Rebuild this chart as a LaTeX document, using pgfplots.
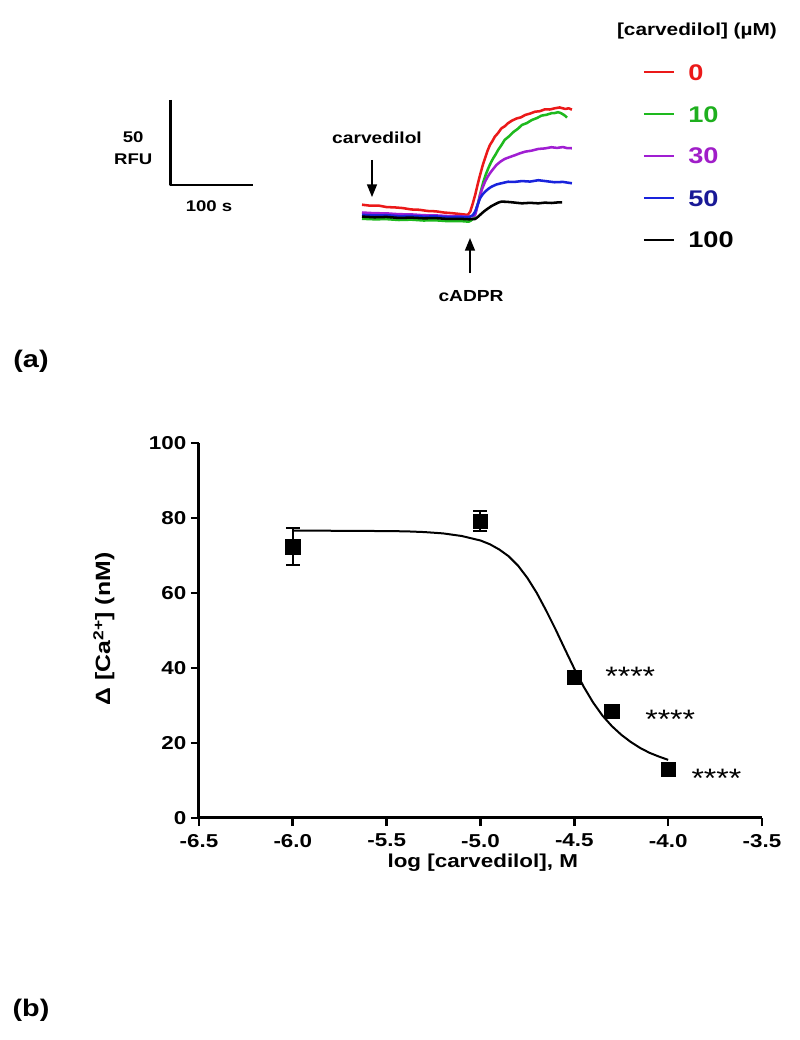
\documentclass[border=0pt]{standalone}
\usepackage{pgfplots}
\pgfplotsset{compat=1.18}
\usetikzlibrary{arrows.meta}
\usepackage{fontspec}
\setmainfont{Liberation Sans}[FakeStretch=1.2]
\definecolor{cred}{RGB}{235,25,25}
\definecolor{cgreen}{RGB}{30,185,30}
\definecolor{cpurple}{RGB}{160,30,210}
\definecolor{cblue}{RGB}{25,35,220}
\definecolor{lblue}{RGB}{25,25,150}
\definecolor{lpurple}{RGB}{160,30,200}
\definecolor{lgreen}{RGB}{30,175,30}

\pgfplotstableread{
x y err
-6.0 72.3 4.9
-5.0 79.2 2.6
-4.5 37.6 1.0
-4.3 28.5 0
-4.0 13.0 0
}\doseresp

\begin{document}
\begin{tikzpicture}
\path[use as bounding box] (0pt,0pt) rectangle (600pt,780pt);

% ---------------- panel (a) ----------------
\begin{axis}[
  at={(87pt,538.5pt)}, anchor=south west,
  scale only axis, width=516.6pt, height=229.5pt,
  xmin=-300, xmax=540, ymin=-60, ymax=120,
  hide axis, clip=false,
  legend cell align=left,
  legend style={draw=none, fill=none, inner sep=0pt, outer sep=0pt,
    at={(0.765,0.844)}, anchor=north west,
    row sep=19.3pt, column sep=10pt,
    font=\bfseries\fontsize{17}{17}\selectfont,
    nodes={inner sep=0pt, text height=12.2pt, text depth=0pt}},
  legend image code/.code={\draw[#1,line width=1.5pt] (0pt,0pt) -- (22.5pt,0pt);},
  every axis plot/.append style={line width=1.9pt, line join=round},
]
\addplot[cred] coordinates {
(0,9.0) (10,8.4) (20,8.5) (30,7.6) (40,7.4) (50,7.0) (60,6.2) (70,6.0) (80,5.3) (90,5.1)
(100,4.4) (110,4.0) (120,3.5) (129,3.0)
(132,4.9) (135,9.5) (138,14.7) (141,20.8) (144,26.5) (147,31.8) (150,36.3) (153,40.6) (156,44.1)
(159,46.4) (162,49.0) (166,51.2) (170,53.9) (174,55.1) (178,56.9) (183,58.5) (189,59.8) (194,60.4)
(199,61.8) (205,62.6) (211,63.7) (217,64.0) (223,65.1) (229,65.0) (235,65.7) (241,66.2) (248,65.3)
(252,65.7) (256,64.9)};
\addlegendentry{\textcolor{cred}{0}}
\addplot[cgreen] coordinates {
(0,0.7) (15,0.4) (30,0.5) (45,0.0) (60,0.2) (75,-0.3) (90,-0.2) (105,-0.7) (120,-0.6) (130,-1.0)
(133,-0.3) (136,1.0) (139,5.5) (142,10.8) (145,17.0) (148,22.5) (151,26.8) (154,30.4) (157,33.6)
(160,36.3) (163,38.6) (166,41.2) (170,44.0) (174,47.1) (180,49.5) (185,51.9) (190,53.6) (195,55.9)
(201,57.0) (207,58.8) (213,59.9) (219,61.4) (225,61.9) (231,62.8) (235,62.9) (239,63.4) (242,63.0)
(245,62.2) (248,61.2) (250,60.2)};
\addlegendentry{\textcolor{lgreen}{10}}
\addplot[cpurple] coordinates {
(0,4.4) (15,4.0) (30,3.9) (45,3.4) (60,3.3) (75,2.8) (90,2.7) (105,2.3) (120,2.2) (130,1.9)
(135,2.2) (138,2.9) (141,8.5) (144,14.7) (147,18.9) (150,22.5) (153,25.2) (156,27.5) (160,30.0)
(164,32.4) (169,34.4) (174,35.9) (180,37.0) (187,38.2) (193,39.3) (199,40.2) (207,40.8) (215,41.8)
(223,42.1) (231,42.8) (238,42.4) (245,42.9) (250,42.3) (256,42.2)};
\addlegendentry{\textcolor{lpurple}{30}}
\addplot[cblue] coordinates {
(0,3.0) (15,2.7) (30,2.8) (45,2.3) (60,2.4) (75,2.0) (90,2.1) (105,1.7) (120,1.8) (130,1.6)
(135,2.8) (138,4.9) (141,9.0) (144,12.8) (147,15.0) (150,16.6) (154,18.3) (158,19.6) (164,20.9)
(170,21.6) (178,22.5) (186,22.4) (195,22.9) (205,22.6) (215,23.4) (225,22.8) (235,22.2) (245,22.4)
(256,21.6)};
\addlegendentry{\textcolor{lblue}{50}}
\addplot[black] coordinates {
(0,2.0) (15,1.6) (30,1.8) (45,1.2) (60,1.4) (75,1.0) (90,1.1) (105,0.6) (120,0.7) (130,0.4)
(138,0.6) (142,2.1) (146,3.9) (150,5.5) (154,6.9) (158,8.2) (162,9.2) (166,10.2) (170,10.8)
(176,10.7) (183,10.4) (189,10.1) (195,9.8) (205,10.1) (215,9.8) (223,10.2) (231,10.0) (238,10.3)
(244,10.4)};
\addlegendentry{100}
% scale bar: 50 RFU x 100 s
\addplot[black, line width=2pt, forget plot] coordinates {(-233.3,70.6) (-233.3,20.6) (-133.3,20.6)};
\node[font=\bfseries\fontsize{11.6}{12}\selectfont] at (axis cs:-279,48.5) {50};
\node[font=\bfseries\fontsize{11.6}{12}\selectfont] at (axis cs:-279,35.9) {RFU};
\node[font=\bfseries\fontsize{11.6}{12}\selectfont] at (axis cs:-186.6,8.2) {100 s};
% arrows
\draw[line width=1.1pt, -{Triangle[width=7.5pt,length=9.5pt]}] (axis cs:12.2,35.3) -- (axis cs:12.2,13.5);
\draw[line width=1.1pt, -{Triangle[width=7.5pt,length=9.5pt]}] (axis cs:131.7,-31.2) -- (axis cs:131.7,-10.6);
\node[font=\bfseries\fontsize{12}{12}\selectfont] at (axis cs:18.3,48.2) {carvedilol};
\node[font=\bfseries\fontsize{12}{12}\selectfont] at (axis cs:133,-44.7) {cADPR};
\node[font=\bfseries\fontsize{13}{13}\selectfont] at (axis cs:408.5,111.2) {[carvedilol] (µM)};
\end{axis}

\node[font=\bfseries\fontsize{18}{18}\selectfont] at (23.25pt,509.25pt) {(a)};
\node[font=\bfseries\fontsize{18}{18}\selectfont] at (23.25pt,22.5pt) {(b)};

% ---------------- panel (b) ----------------
\begin{axis}[
  at={(149.25pt,166.5pt)}, anchor=south west,
  scale only axis, width=422.25pt, height=281.25pt,
  xmin=-6.5, xmax=-3.5, ymin=0, ymax=100,
  axis x line*=bottom, axis y line*=left,
  axis line style={line width=2.25pt},
  tick align=outside, major tick length=6pt,
  tick style={line width=2pt, black},
  xtick={-6.5,-6,-5.5,-5,-4.5,-4,-3.5},
  xticklabels={-6.5,-6.0,-5.5,-5.0,-4.5,-4.0,-3.5},
  ytick={0,20,40,60,80,100},
  yticklabels={0,20,40,60,80,100},
  tick label style={font=\bfseries\fontsize{14}{14}\selectfont},
  xticklabel style={yshift=-2.5pt},
  xlabel={log [carvedilol], M},
  ylabel={Δ [Ca\textsuperscript{2+}] (nM)},
  xlabel style={font=\bfseries\fontsize{14}{14}\selectfont, at={(axis description cs:0.504,-0.12)}, anchor=center},
  ylabel style={font=\bfseries\fontsize{15.5}{15.5}\selectfont, at={(axis description cs:-0.169,0.504)}, anchor=center},
  clip=false,
]
\addplot[black, line width=1.5pt] coordinates {
(-6.0,76.6) (-5.8,76.6) (-5.6,76.55) (-5.4,76.45) (-5.3,76.25) (-5.2,75.9) (-5.1,75.2)
(-5.0,74.0) (-4.95,73.0) (-4.9,71.6) (-4.85,69.8) (-4.8,67.3) (-4.75,64.0) (-4.7,60.0)
(-4.65,55.3) (-4.6,50.3) (-4.55,45.0) (-4.5,39.8) (-4.45,35.0) (-4.4,30.8) (-4.35,27.3)
(-4.3,24.5) (-4.25,22.2) (-4.2,20.3) (-4.15,18.7) (-4.1,17.4) (-4.05,16.4) (-4.0,15.5)};
\addplot[black, only marks, mark=square*, mark size=5.4pt,
  error bars/.cd, y dir=both, y explicit,
  error bar style={line width=1.5pt},
  error mark options={rotate=90, line width=1.5pt, mark size=5.25pt}]
  table[x=x, y=y, y error=err] {\doseresp};
\node[anchor=base west, inner sep=0pt, font=\fontsize{20}{20}\selectfont] at (axis cs:-4.336,35.2) {****};
\node[anchor=base west, inner sep=0pt, font=\fontsize{20}{20}\selectfont] at (axis cs:-4.123,23.8) {****};
\node[anchor=base west, inner sep=0pt, font=\fontsize{20}{20}\selectfont] at (axis cs:-3.877,8.1) {****};
\end{axis}
\end{tikzpicture}
\end{document}
